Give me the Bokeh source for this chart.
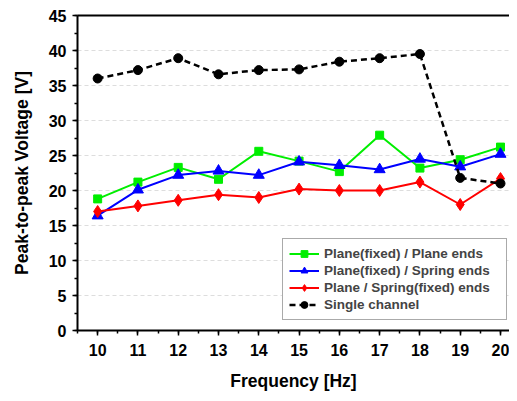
from bokeh.plotting import figure
from bokeh.models import Range1d, SingleIntervalTicker, LinearAxis
from bokeh.embed import file_html
from bokeh.resources import INLINE

freq = [10, 11, 12, 13, 14, 15, 16, 17, 18, 19, 20]
plane_plane = [18.8, 21.2, 23.3, 21.6, 25.6, 24.2, 22.7, 27.9, 23.2, 24.4, 26.2]
plane_spring = [16.4, 20.1, 22.2, 22.8, 22.2, 24.1, 23.6, 23.0, 24.5, 23.4, 25.2]
spring_fixed = [17.0, 17.8, 18.6, 19.4, 19.0, 20.2, 20.0, 20.0, 21.2, 18.0, 21.7]
single = [36.0, 37.2, 38.9, 36.6, 37.2, 37.3, 38.4, 38.9, 39.5, 21.8, 21.0]

labels = ["Plane(fixed) / Plane ends", "Plane(fixed) / Spring ends",
          "Plane / Spring(fixed) ends", "Single channel"]

FONT = "Liberation Sans"
W, H = 509, 393

p = figure(width=W, height=H, output_backend="svg", toolbar_location=None,
           x_range=Range1d(9.5, 10 + (W - 97) / 40.3), y_range=Range1d(0, 45),
           min_border_left=77, min_border_top=15, min_border_bottom=H - 338, min_border_right=0)
p.outline_line_color = None
p.background_fill_color = "white"
p.border_fill_color = "white"

p.line(freq, plane_plane, line_color="#00ee00", line_width=2, legend_label=labels[0])
p.scatter(freq, plane_plane, marker="square", size=8, fill_color="#00ee00", line_color="#00ee00", legend_label=labels[0])
p.line(freq, plane_spring, line_color="#0000ff", line_width=2, legend_label=labels[1])
p.scatter(freq, plane_spring, marker="triangle", size=11, fill_color="#0000ff", line_color="#0000ff", legend_label=labels[1])
p.line(freq, spring_fixed, line_color="#ff0000", line_width=2, legend_label=labels[2])
p.scatter(freq, spring_fixed, marker="diamond", size=12, fill_color="#ff0000", line_color="#ff0000", legend_label=labels[2])
p.line(freq, single, line_color="black", line_width=2.5, line_dash="6 4", legend_label=labels[3])
p.scatter(freq, single, marker="circle", size=9, fill_color="black", line_color="black", legend_label=labels[3])

p.xgrid.grid_line_color = None
p.ygrid.grid_line_color = "#dddddd"
p.ygrid.grid_line_dash = "4 3"
p.ygrid.ticker = SingleIntervalTicker(interval=5)

for ax in (p.xaxis[0], p.yaxis[0]):
    ax.axis_line_width = 2
    ax.major_tick_line_width = 1.5
    ax.minor_tick_line_width = 1.5
    ax.major_tick_out = 5
    ax.major_tick_in = 0
    ax.minor_tick_out = 3
    ax.minor_tick_in = 0
    ax.major_label_text_font = FONT
    ax.major_label_text_font_style = "bold"
    ax.major_label_text_font_size = "16px"
    ax.major_label_text_color = "black"
    ax.axis_label_text_font = FONT
    ax.axis_label_text_font_style = "bold"
    ax.axis_label_text_font_size = "17.5px"
    ax.axis_label_text_color = "black"

p.xaxis[0].ticker = SingleIntervalTicker(interval=1, num_minor_ticks=2)
p.yaxis[0].ticker = SingleIntervalTicker(interval=5, num_minor_ticks=2)
p.xaxis[0].axis_label = "Frequency [Hz]"
p.yaxis[0].axis_label = "Peak-to-peak Voltage [V]"
p.xaxis[0].major_label_standoff = 8
p.yaxis[0].major_label_standoff = 6
p.xaxis[0].axis_label_standoff = 12
p.yaxis[0].axis_label_standoff = 14

top = LinearAxis(axis_line_width=2, major_tick_line_color=None, minor_tick_line_color=None,
                 major_label_text_font_size="0px", major_label_text_color=None)
p.add_layout(top, "above")

lg = p.legend[0]
lg.location = (205, 10)
lg.border_line_color = "#555555"
lg.border_line_width = 1
lg.background_fill_alpha = 1
lg.label_text_font = FONT
lg.label_text_font_style = "bold"
lg.label_text_font_size = "13.5px"
lg.label_height = 17
lg.label_width = 176
lg.glyph_height = 17
lg.glyph_width = 30
lg.spacing = 0
lg.padding = 6
lg.margin = 0
lg.label_standoff = 5

open("out.html", "w").write(file_html(p, INLINE))
